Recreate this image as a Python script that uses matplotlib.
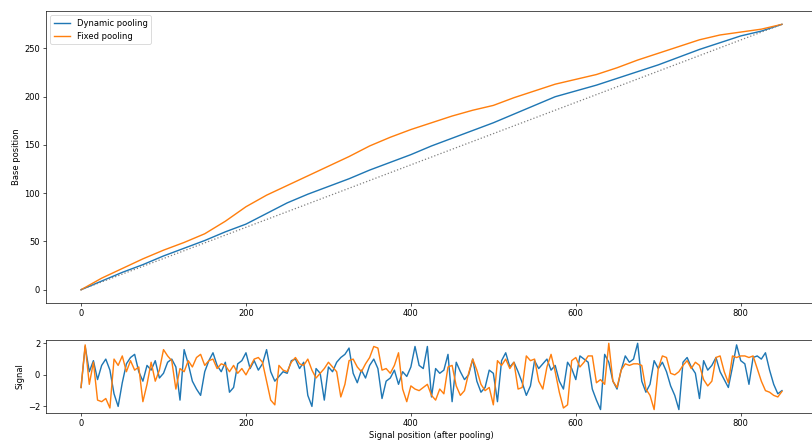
import numpy as np
from matplotlib import pyplot as plt

# base position reached at each signal position (read every 25 steps)
align_pos = [0, 25, 50, 75, 100, 125, 150, 175, 200, 225, 250, 275, 300, 325, 350,
             375, 400, 425, 450, 475, 500, 525, 550, 575, 600, 625, 650, 675, 700,
             725, 750, 775, 800, 825, 850]
base_dynamic = [0, 9, 18, 26, 35, 43, 51, 60, 68, 79, 90, 99, 107, 115, 124,
                132, 140, 149, 157, 165, 173, 182, 191, 200, 206, 212, 219, 226, 233,
                241, 249, 256, 263, 268, 275]
base_fixed = [0, 12, 22, 32, 41, 49, 58, 71, 86, 98, 108, 118, 128, 138, 149,
              158, 166, 173, 180, 186, 191, 199, 206, 213, 218, 223, 230, 238, 245,
              252, 259, 264, 267, 270, 275]

# pooled signal, one value every 5 positions
signal_pos = np.arange(0, 855, 5)
signal_dynamic = [
    -0.8, 1.8, 0.2, 0.9, -0.3, 0.6, 1.0, 0.3, -1.2, -2.0,
    -0.5, 0.7, 1.1, 1.3, 0.2, -0.4, 0.6, 0.3, 0.9, -0.2,
    0.1, 0.8, 1.0, 0.5, -1.6, 1.6, 0.7, -0.4, -0.9, -1.3,
    0.2, 0.9, 1.4, 0.6, 0.2, 0.8, -1.1, -0.8, 0.7, 0.9,
    1.4, 0.4, 0.9, 0.3, 0.7, 1.6, 0.2, -0.4, -0.1, 0.2,
    0.1, 0.9, 1.0, 0.4, 0.8, -1.3, -2.0, 0.4, 0.1, -1.6,
    0.5, 0.2, 0.8, 1.1, 1.3, 1.7, 0.1, -0.5, 0.3, -0.2,
    0.6, 1.0, 0.4, -1.5, -0.4, -0.2, 0.3, -0.6, 0.2, -0.1,
    0.5, 1.8, 0.6, 0.4, 1.8, -1.4, 0.4, 0.1, 0.3, 1.3,
    -1.7, 0.8, 0.2, -0.3, 0.0, 1.0, -0.4, -1.1, -0.8, 0.3,
    0.1, -1.7, 0.9, 1.4, 0.5, 0.8, 0.2, -0.5, -1.3, -0.7,
    0.9, 0.4, 0.7, 1.0, 0.3, 0.6, -0.4, -0.9, 0.8, 0.4,
    -0.3, 1.2, 1.0, 0.8, -0.9, -1.6, -2.2, 1.3, 0.8, -0.4,
    -0.9, 0.3, 1.2, 0.8, 1.0, 2.0, -0.4, -1.1, -0.6, 0.9,
    0.4, 0.8, 0.2, -0.7, -1.3, -2.2, 0.8, 1.1, 0.5, 0.1,
    -1.5, 0.9, 0.3, 0.6, 1.1, 0.2, -0.3, -0.8, 0.5, 1.9,
    0.9, 0.7, -0.6, 1.1, 1.2, 1.0, 1.4, 0.3, -0.6, -1.2,
    -1.0]
signal_fixed = [
    -0.8, 1.9, -0.6, 0.8, -1.6, -1.7, -1.5, -2.1, 1.0, 0.6,
    1.2, 0.2, 0.9, 0.3, 0.5, -1.7, -0.6, 0.8, -0.4, 0.3,
    1.6, 1.2, 0.9, -0.9, 0.4, 0.2, 0.9, 0.5, 1.1, 1.3,
    0.6, 0.9, 1.0, 0.4, 0.7, 0.6, 0.2, 0.6, 0.1, 0.4,
    0.0, 0.5, 1.0, 1.1, 0.8, -0.4, -1.6, -1.9, 0.6, 0.3,
    0.2, 0.8, 1.1, 0.7, 0.6, 1.0, 0.3, -0.2, 0.1, 0.4,
    0.8, 0.5, 0.2, -1.4, -0.6, 0.9, 1.0, 0.5, 0.2, 0.7,
    1.1, 1.8, 1.7, 0.3, 0.4, 0.1, 0.6, 1.4, -0.9, -1.7,
    -0.7, -0.9, -1.0, -0.8, -0.6, -1.3, -1.6, -0.9, -1.2, 0.5,
    0.6, -0.7, -1.3, -1.0, 0.1, 1.0, 0.3, -0.6, -1.0, -0.8,
    -1.9, 0.9, 0.6, 1.0, 0.4, 0.8, -0.9, -0.8, 1.2, 0.9,
    1.0, -0.4, -0.9, 0.5, 1.3, 0.2, -1.1, -2.1, -1.9, 0.9,
    1.1, 0.5, 0.8, 1.2, 1.2, -0.5, -0.3, -0.6, 2.0, -0.4,
    -0.8, 0.3, 0.7, 0.6, 0.7, 0.7, 0.6, -0.9, -1.3, -2.2,
    0.4, 1.2, 1.1, 0.1, 0.0, 0.2, 0.6, 0.9, 0.4, 0.8,
    0.6, -0.3, -0.7, -0.4, 1.1, 1.2, 0.2, -0.5, 1.2, 1.1,
    1.2, 1.2, 1.1, 1.2, 0.4, -0.4, -1.0, -1.1, -1.3, -1.4,
    -1.05]

plt.rcParams['lines.linewidth'] = 1.7

fig = plt.figure(figsize=(812/60, 443/60), dpi=60)

# axes run a bit past the right edge, like the cropped original
ax = fig.add_axes([46/812, 0.316, 0.9495, 0.659])
ax.plot(align_pos, base_dynamic, label="Dynamic pooling")
ax.plot(align_pos, base_fixed, label="Fixed pooling")
ax.plot([align_pos[0], align_pos[-1]], [base_dynamic[0], base_dynamic[-1]],
        linestyle=':', color='grey', linewidth=1.5)
ax.set_ylabel("Base position")
ax.legend(loc='upper left')

ax2 = fig.add_axes([46/812, 0.068, 0.9495, 0.1645])
ax2.plot(signal_pos, signal_dynamic)
ax2.plot(signal_pos, signal_fixed)
ax2.set_xlim(ax.get_xlim())
ax2.set_ylabel("Signal")
ax2.set_xlabel("Signal position (after pooling)")

plt.savefig("out.png", dpi=60)
